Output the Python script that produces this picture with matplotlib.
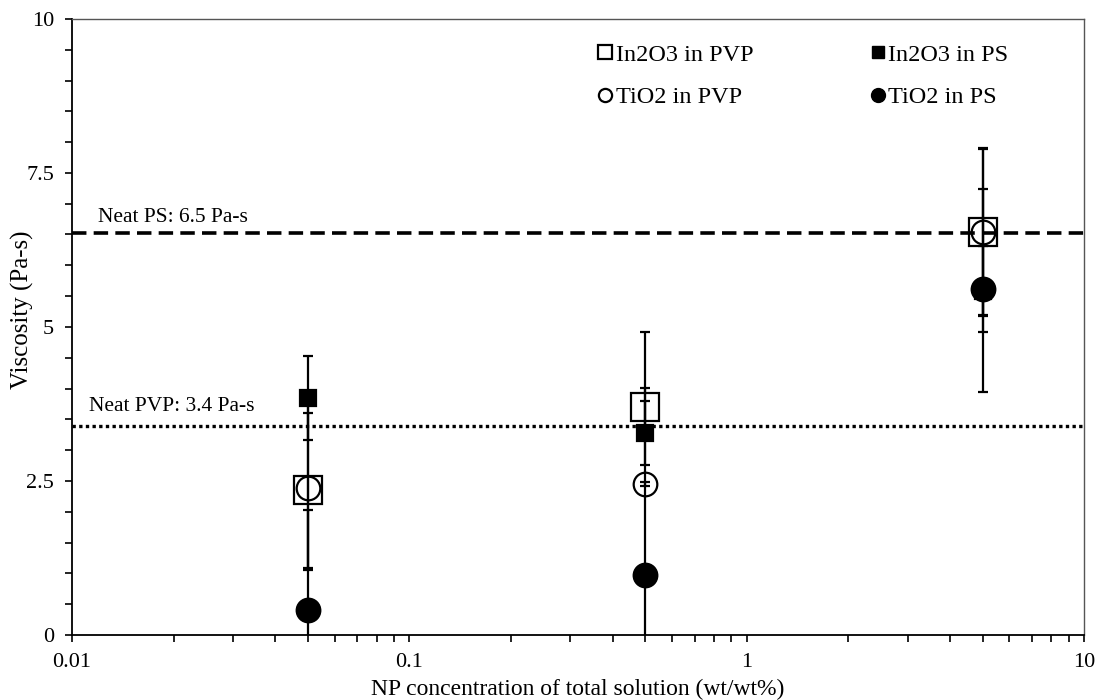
import matplotlib
matplotlib.use("Agg")
import matplotlib.pyplot as plt
from matplotlib.lines import Line2D
from matplotlib.ticker import FixedLocator, MultipleLocator, NullFormatter

plt.rcParams["font.family"] = ["Liberation Serif", "DejaVu Serif"]

# NP concentration (wt/wt%)
conc = [0.05, 0.5, 5]

# viscosity (Pa-s) and error bar half-widths
in2o3_pvp = [2.35, 3.70, 6.54]
in2o3_pvp_err = [1.26, 0.31, 1.37]
in2o3_ps = [3.85, 3.28, 5.59]
in2o3_ps_err = [0.68, 0.52, 1.65]
tio2_pvp = [2.39, 2.45, 6.54]
tio2_pvp_err = [1.34, 0.03, 1.34]
tio2_ps = [0.41, 0.97, 5.62]
tio2_ps_err = [1.62, 3.94, 0.70]

neat_ps = 6.53
neat_pvp = 3.39

fig = plt.figure(figsize=(10.99, 7.0), dpi=100)
ax = fig.add_axes([0.0655, 0.093, 0.921, 0.880])

ebkw = dict(ecolor="black", elinewidth=1.6, capsize=3.6, capthick=1.6,
            linestyle="none", color="black", markeredgewidth=1.6)

ax.errorbar(conc, tio2_ps, yerr=tio2_ps_err, marker="o", markersize=17,
            mfc="black", zorder=3, **ebkw)
ax.errorbar(conc, in2o3_ps, yerr=in2o3_ps_err, marker="s", markersize=11,
            mfc="black", zorder=4, **ebkw)
ax.errorbar(conc, tio2_pvp, yerr=tio2_pvp_err, marker="o", markersize=17,
            mfc="none", zorder=5, **ebkw)
ax.errorbar(conc, in2o3_pvp, yerr=in2o3_pvp_err, marker="s", markersize=20,
            mfc="none", zorder=6, **ebkw)

ax.axhline(neat_ps, color="black", lw=2.6, ls=(0, (4, 2)), zorder=2)
ax.axhline(neat_pvp, color="black", lw=2.4, ls=(0, (1, 1)), zorder=2)

ax.text(0.01194, neat_ps + 0.17, "Neat PS: 6.5 Pa-s", fontsize=15.5, va="baseline")
ax.text(0.01123, neat_pvp + 0.24, "Neat PVP: 3.4 Pa-s", fontsize=15.5, va="baseline")

ax.set_xscale("log")
ax.set_xlim(0.01, 10)
ax.set_ylim(0, 10)
ax.xaxis.set_major_locator(FixedLocator([0.01, 0.1, 1, 10]))
ax.set_xticklabels(["0.01", "0.1", "1", "10"])
ax.xaxis.set_minor_formatter(NullFormatter())
ax.yaxis.set_major_locator(FixedLocator([0, 2.5, 5, 7.5, 10]))
ax.set_yticklabels(["0", "2.5", "5", "7.5", "10"])
ax.yaxis.set_minor_locator(MultipleLocator(0.5))

ax.tick_params(which="both", direction="out", length=5, width=1.2,
               labelsize=16, top=False, right=False, pad=8)
for side in ["top", "right"]:
    ax.spines[side].set_color("#555555")
    ax.spines[side].set_linewidth(1.0)
for side in ["left", "bottom"]:
    ax.spines[side].set_linewidth(1.3)

ax.set_xlabel("NP concentration of total solution (wt/wt%)", fontsize=17)
ax.xaxis.set_label_coords(0.5, -0.097)
ax.xaxis.label.set_va("baseline")
ax.set_ylabel("Viscosity (Pa-s)", fontsize=18)
ax.yaxis.set_label_coords(-0.038, 0.528)

handles = [
    Line2D([], [], ls="none", marker="s", mfc="none", mec="black", mew=1.6, ms=9.5),
    Line2D([], [], ls="none", marker="o", mfc="none", mec="black", mew=1.6, ms=9.5),
    Line2D([], [], ls="none", marker="s", mfc="black", mec="black", ms=8.5),
    Line2D([], [], ls="none", marker="o", mfc="black", mec="black", ms=10),
]
labels = ["In2O3 in PVP", "TiO2 in PVP", "In2O3 in PS", "TiO2 in PS"]
ax.legend(handles, labels, ncol=2, frameon=False, fontsize=17.5,
          loc="upper left", bbox_to_anchor=(0.505, 0.983),
          handlelength=0.6, handletextpad=0.15, columnspacing=4.8,
          labelspacing=0.84, borderaxespad=0.2)

fig.savefig("out.png", dpi=100)
